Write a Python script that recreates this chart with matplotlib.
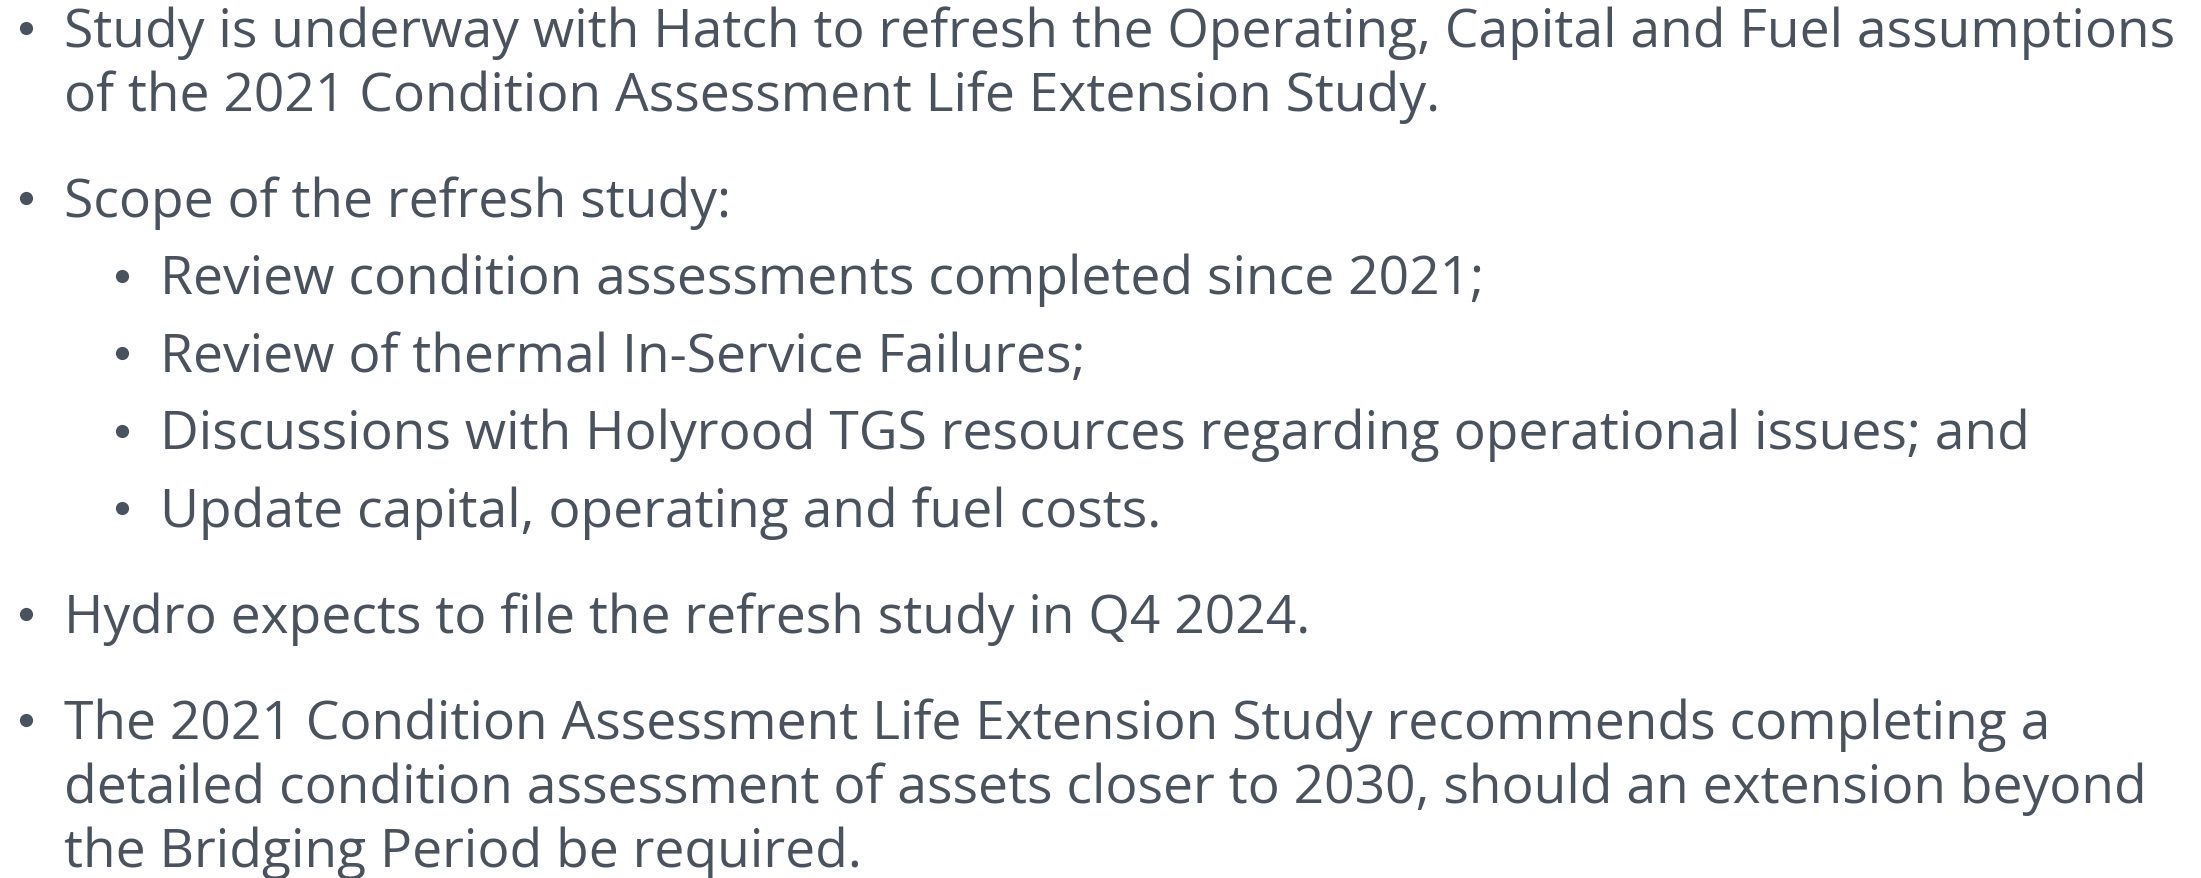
import matplotlib
matplotlib.use("Agg")
import matplotlib.pyplot as plt

# slide content: (indent level, wrapped lines)
items = [
    (0, ["Study is underway with Hatch to refresh the Operating, Capital and Fuel assumptions",
         "of the 2021 Condition Assessment Life Extension Study."]),
    (0, ["Scope of the refresh study:"]),
    (1, ["Review condition assessments completed since 2021;"]),
    (1, ["Review of thermal In-Service Failures;"]),
    (1, ["Discussions with Holyrood TGS resources regarding operational issues; and"]),
    (1, ["Update capital, operating and fuel costs."]),
    (0, ["Hydro expects to file the refresh study in Q4 2024."]),
    (0, ["The 2021 Condition Assessment Life Extension Study recommends completing a",
         "detailed condition assessment of assets closer to 2030, should an extension beyond",
         "the Bridging Period be required."]),
]

W, H = 2201, 879
color = "#4a525d"
fsize = 38.4
bullet_x = [26, 122]
text_x = [64, 160]
line_step = 64
gap_top = 106
gap_sub = 77.5

fig = plt.figure(figsize=(W / 100, H / 100), dpi=100)
ax = fig.add_axes([0, 0, 1, 1])
ax.set_xlim(0, W)
ax.set_ylim(H, 0)
ax.axis("off")

y = 47
prev_last = None
for level, lines in items:
    if prev_last is not None:
        y = prev_last + (gap_sub if level == 1 else gap_top)
    # round bullet sitting at mid x-height
    ax.plot(bullet_x[level], y - 18, "o", ms=9.5, mew=0, color=color)
    for i, line in enumerate(lines):
        ax.text(text_x[level], y + i * line_step, line, fontsize=fsize, color=color,
                family="Open Sans", ha="left", va="baseline")
    prev_last = y + (len(lines) - 1) * line_step

fig.savefig("out.png", dpi=100, facecolor="white")
